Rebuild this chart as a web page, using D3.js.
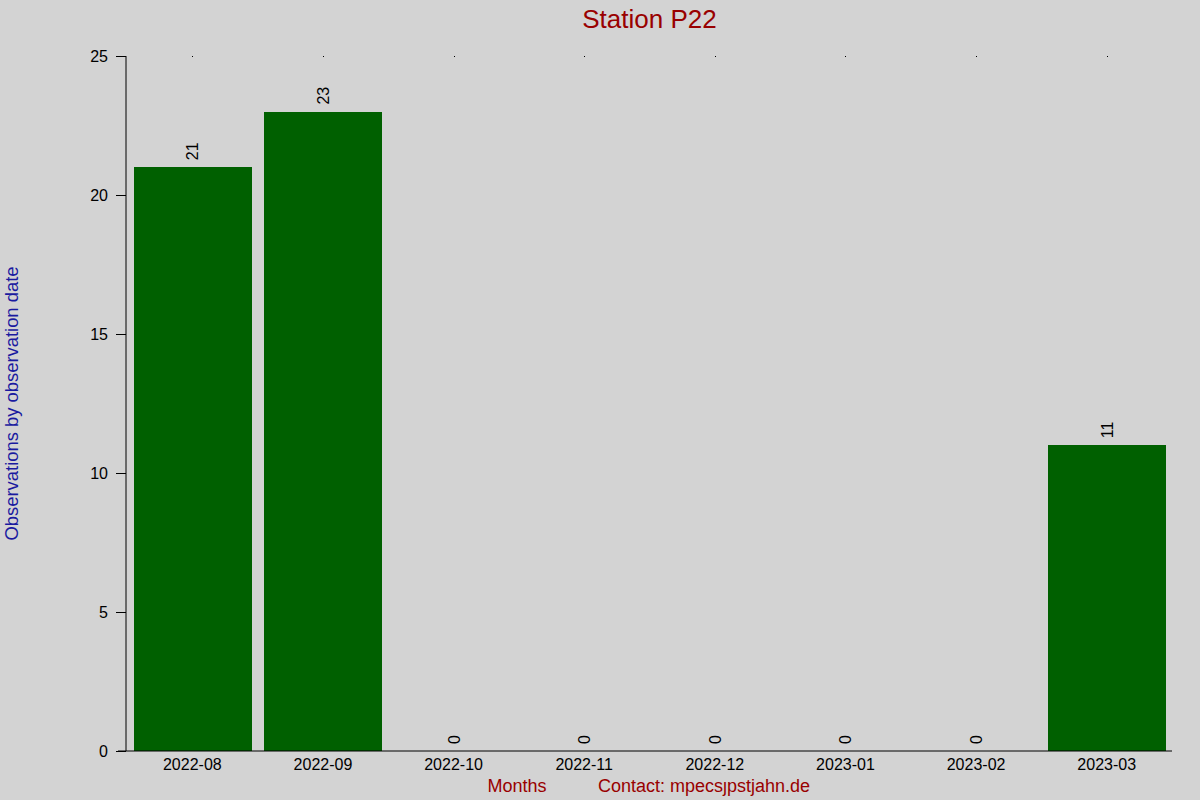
<!DOCTYPE html>
<html>
<head>
<meta charset="utf-8">
<script src="https://cdn.jsdelivr.net/npm/d3@7"></script>
<style>
  body { margin: 0; background: #d3d3d3; }
  svg { display: block; font-family: "Liberation Sans", Arial, sans-serif; }
</style>
</head>
<body>
<svg id="viz" width="1200" height="800"></svg>
<script>
var months = ["2022-08", "2022-09", "2022-10", "2022-11", "2022-12", "2023-01", "2023-02", "2023-03"];
var counts = [21, 23, 0, 0, 0, 0, 0, 11];
var yTicks = [0, 5, 10, 15, 20, 25];

function drawStationGraph() {
	var width = 1200;
	var height = 800;
	var margin = { left: 127, right: 28, top: 56, bottom: 49 };

	var svg = d3.select("#viz");

	svg.append("rect")
		.attr("width", width)
		.attr("height", height)
		.attr("fill", "#d3d3d3");

	var x = d3.scaleBand().domain(months)
		.range([margin.left, width - margin.right])
		.paddingInner(0.1).paddingOuter(0.05);

	var y = d3.scaleLinear().domain([0, 25]).range([height - margin.bottom, margin.top]);

	// bars
	svg.append("g").selectAll("rect")
		.data(months)
		.enter().append("rect")
		.attr("x", function(d) { return Math.round(x(d)); })
		.attr("y", function(d, i) { return Math.round(y(counts[i])); })
		.attr("width", Math.round(x.bandwidth()))
		.attr("height", function(d, i) { return Math.round(y(0)) - Math.round(y(counts[i])); })
		.attr("shape-rendering", "crispEdges")
		.attr("fill", "#006000");

	// value labels, rotated
	svg.append("g").selectAll("text")
		.data(months)
		.enter().append("text")
		.attr("transform", function(d, i) {
			return "translate(" + (x(d) + x.bandwidth() / 2 + 6) + "," + (y(counts[i]) - 7) + ") rotate(-90)";
		})
		.attr("font-size", 16)
		.attr("fill", "#000")
		.text(function(d, i) { return counts[i]; });

	// y axis
	var yAxis = d3.axisLeft(y).tickValues(yTicks).tickSize(10).tickPadding(8);
	var gy = svg.append("g")
		.attr("transform", "translate(" + (margin.left - 1) + ",0)")
		.call(yAxis);
	gy.select(".domain").attr("d", "M0," + y(25) + "V" + y(0));
	gy.selectAll("text").attr("font-size", 16).attr("font-family", "Liberation Sans, Arial, sans-serif").attr("dy", "0.35em");

	// x axis
	var xAxis = d3.axisBottom(x).tickSize(0).tickPadding(8);
	var gx = svg.append("g")
		.attr("transform", "translate(0," + y(0) + ")")
		.call(xAxis);
	gx.select(".domain").attr("d", "M" + (margin.left - 9) + ",0H" + (width - margin.right));
	gx.selectAll("text").attr("font-size", 16).attr("font-family", "Liberation Sans, Arial, sans-serif");

	// tiny top ticks
	svg.append("g").selectAll("rect")
		.data(months)
		.enter().append("rect")
		.attr("x", function(d) { return Math.round(x(d) + x.bandwidth() / 2); })
		.attr("y", y(25))
		.attr("width", 1)
		.attr("height", 1)
		.attr("fill", "#000");

	// title
	svg.append("text")
		.attr("x", (margin.left + width - margin.right) / 2)
		.attr("y", 28)
		.attr("text-anchor", "middle")
		.attr("font-size", 26)
		.attr("fill", "#990000")
		.text("Station P22");

	// y label
	svg.append("text")
		.attr("transform", "translate(18," + ((y(0) + y(25)) / 2) + ") rotate(-90)")
		.attr("text-anchor", "middle")
		.attr("font-size", 18.4)
		.attr("fill", "#1a1aa0")
		.text("Observations by observation date");

	// bottom labels
	svg.append("text")
		.attr("x", 517)
		.attr("y", 792)
		.attr("text-anchor", "middle")
		.attr("font-size", 18)
		.attr("fill", "#990000")
		.text("Months");

	svg.append("text")
		.attr("x", 598)
		.attr("y", 792)
		.attr("font-size", 18)
		.attr("fill", "#990000")
		.text("Contact: mpecs\u0237pstjahn.de");
}

drawStationGraph();
</script>
</body>
</html>
